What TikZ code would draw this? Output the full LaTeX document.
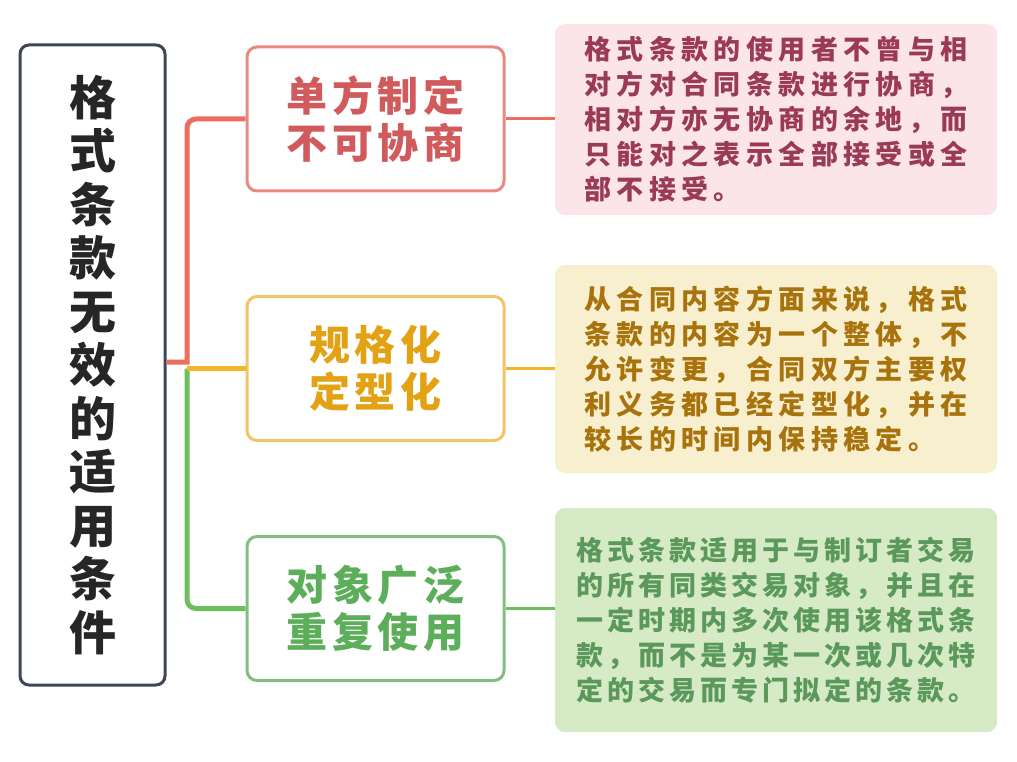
\documentclass[tikz,border=0pt]{standalone}
\usepackage{fontspec}
\newfontfamily\cjk{Noto Sans CJK SC}
\newfontfamily\cjkbody[LetterSpace=20]{Noto Sans CJK SC}
\newfontfamily\cjkbodyn[LetterSpace=15]{Noto Sans CJK SC}
\newfontfamily\cjkmid[LetterSpace=12]{Noto Sans CJK SC}
\definecolor{navy}{HTML}{3F4659}
\definecolor{cred}{HTML}{EE6E5E}
\definecolor{corange}{HTML}{F5B527}
\definecolor{cgreen}{HTML}{6DBE5C}
\definecolor{bred}{HTML}{E98A80}
\definecolor{borange}{HTML}{F3C466}
\definecolor{bgreen}{HTML}{82BE82}
\definecolor{tred}{HTML}{D05A5C}
\definecolor{torange}{HTML}{E3A214}
\definecolor{tgreen}{HTML}{5DAE5B}
\definecolor{fpink}{HTML}{FCE5E9}
\definecolor{fyellow}{HTML}{F7EFCD}
\definecolor{fgreen}{HTML}{D6EAC5}
\definecolor{pred}{HTML}{9A3A55}
\definecolor{porange}{HTML}{A8720C}
\definecolor{pgreen}{HTML}{5B985B}
\tikzset{
  leftbox/.style={draw=navy, line width=3pt, rounded corners=9pt, fill=white, minimum width=145pt, minimum height=640pt, inner sep=0pt},
  midbox/.style={line width=3pt, rounded corners=10pt, fill=white, minimum width=257pt, minimum height=144pt, inner sep=0pt, align=center, font=\cjkmid\bfseries\fontsize{41}{47}\selectfont},
  textbox/.style={rounded corners=10pt, minimum width=442pt, inner sep=0pt, align=left, font=\cjkbody\bfseries\fontsize{27}{35}\selectfont},
  conn/.style={line width=5pt},
  conn2/.style={line width=3pt}
}
\begin{document}
\begin{tikzpicture}[x=1pt,y=-1pt]
\useasboundingbox[fill=white] (0,0) rectangle (1017,762);
\node[leftbox] (L) at (92.5,365) {};
\node[align=center, font=\cjk\bfseries\fontsize{47}{53.5}\selectfont, text=black!85] (Lt) at (92.5,365) {格\\式\\条\\款\\无\\效\\的\\适\\用\\条\\件};
\node[midbox, draw=bred, text=tred] (M1) at (375.5,119) {单方制定\\不可协商};
\node[midbox, draw=borange, text=torange] (M2) at (375.5,368.5) {规格化\\定型化};
\node[midbox, draw=bgreen, text=tgreen] (M3) at (375.5,608.5) {对象广泛\\重复使用};
\node[textbox, fill=fpink, text=pred, minimum height=191pt] (R1) at (776,119.5) {格式条款的使用者不曾与相\\对方对合同条款进行协商，\\相对方亦无协商的余地，而\\只能对之表示全部接受或全\\部不接受。};
\node[textbox, fill=fyellow, text=porange, minimum height=208pt] (R2) at (776,369) {从合同内容方面来说，格式\\条款的内容为一个整体，不\\允许变更，合同双方主要权\\利义务都已经定型化，并在\\较长的时间内保持稳定。};
\node[textbox, fill=fgreen, text=pgreen, minimum height=224pt, font=\cjkbodyn\bfseries\fontsize{27}{35}\selectfont] (R3) at (776,620) {格式条款适用于与制订者交易\\的所有同类交易对象，并且在\\一定时期内多次使用该格式条\\款，而不是为某一次或几次特\\定的交易而专门拟定的条款。};
\coordinate (J) at (187,362);
\draw[conn, cgreen] (M2.west -| J) [rounded corners=9pt] |- (M3.west);
\draw[conn, corange] (M2.west -| J) -- (M2.west);
\draw[conn, cred] (L.east |- J) -- (J) [rounded corners=9pt] |- (M1.west);
\draw[conn2, cred] (M1.east) -- (M1.east -| R1.west);
\draw[conn2, corange] (M2.east) -- (M2.east -| R2.west);
\draw[conn2, cgreen] (M3.east) -- (M3.east -| R3.west);
\end{tikzpicture}
\end{document}
